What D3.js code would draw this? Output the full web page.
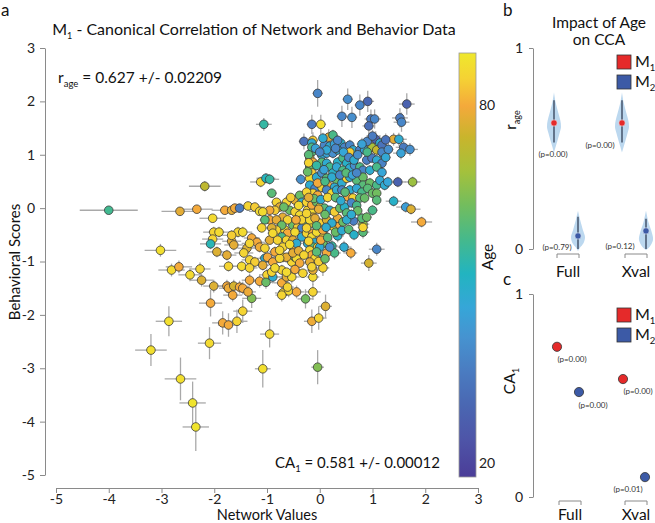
<!DOCTYPE html>
<html><head><meta charset="utf-8">
<script src="https://cdn.jsdelivr.net/npm/d3@7"></script>
<style>body{margin:0;background:#fff}svg{font-family:Lato,"Open Sans",sans-serif}</style>
</head><body><svg id="chart" width="655" height="523"></svg>
<script>
// ---------- DATA ----------
// [network value, behavioral score, age, network error, behavior error]
const subjects = [
[-4.00,-0.04,57,0.55,0.06],[-3.02,-0.79,87,0.30,0.12],[-2.81,-1.16,86,0.25,0.12],[-2.67,-1.10,80,0.25,0.12],
[-2.46,-1.25,86,0.22,0.12],[-2.27,-1.14,85,0.20,0.12],[-2.24,-1.35,77,0.22,0.12],[-2.86,-2.12,87,0.25,0.28],
[-3.20,-2.66,87,0.30,0.30],[-2.64,-3.20,87,0.30,0.40],[-2.41,-3.65,88,0.25,0.40],[-2.35,-4.10,88,0.25,0.45],
[-2.09,-2.53,86,0.22,0.30],[-2.07,-1.78,80,0.22,0.25],[-1.84,-2.15,80,0.20,0.22],[-1.73,-2.19,80,0.20,0.22],
[-1.57,-2.12,85,0.20,0.22],[-1.46,-1.93,85,0.18,0.22],[-1.29,-1.69,65,0.18,0.18],[-0.95,-2.36,86,0.18,0.25],
[-1.08,-3.01,87,0.15,0.35],[-0.04,-2.98,65,0.12,0.32],[-0.15,-2.12,79,0.15,0.22],[-0.02,-2.06,85,0.15,0.22],
[0.11,-1.84,77,0.12,0.22],[-0.27,-1.70,63,0.15,0.18],[-0.13,-1.57,85,0.15,0.15],[-2.18,0.41,73,0.30,0.10],
[-2.65,-0.06,78,0.35,0.08],[-2.33,-0.02,80,0.30,0.08],[-2.03,-0.19,86,0.25,0.08],[-1.80,-0.04,80,0.25,0.08],
[-1.67,-0.04,78,0.22,0.08],[-1.61,0.00,80,0.22,0.08],[-1.52,0.00,35,0.22,0.08],[-1.36,0.04,85,0.20,0.08],
[-1.23,0.02,84,0.20,0.08],[-1.14,-0.06,86,0.20,0.08],[-1.12,0.49,85,0.20,0.10],[-1.02,0.56,52,0.18,0.10],
[-0.95,0.54,55,0.18,0.10],[-1.06,1.57,55,0.15,0.12],[-0.04,2.15,38,0.10,0.25],[0.53,2.04,40,0.10,0.20],
[0.76,1.93,38,0.10,0.20],[0.91,2.00,30,0.12,0.20],[1.65,1.95,28,0.15,0.20],[0.42,1.72,38,0.10,0.20],
[0.61,1.70,40,0.10,0.20],[0.97,1.67,35,0.12,0.18],[1.04,1.67,38,0.12,0.18],[1.52,1.69,35,0.15,0.18],
[1.55,1.61,38,0.15,0.18],[0.93,1.54,32,0.12,0.18],[-0.15,1.57,35,0.10,0.18],[0.02,1.57,87,0.10,0.18],
[-0.30,1.25,33,0.10,0.15],[-0.13,1.27,84,0.10,0.15],[0.17,1.33,78,0.10,0.15],[1.06,1.29,28,0.15,0.15],
[1.14,1.22,48,0.15,0.15],[1.40,1.29,78,0.15,0.12],[1.50,1.29,48,0.15,0.12],[1.59,1.14,35,0.15,0.12],
[1.71,1.10,40,0.15,0.12],[1.54,1.03,45,0.15,0.12],[1.21,1.01,47,0.12,0.12],[1.48,0.49,28,0.15,0.10],
[1.76,0.49,68,0.15,0.10],[1.40,0.13,50,0.15,0.10],[-0.36,0.54,40,0.10,0.10],[1.63,0.02,44,0.18,0.10],
[1.73,-0.02,77,0.18,0.10],[1.93,-0.26,80,0.20,0.10],[1.08,-0.77,38,0.15,0.12],[0.93,-1.03,76,0.15,0.15],
[0.34,-0.52,50,0.12,0.12],[0.46,-0.73,48,0.12,0.12],[0.59,-0.84,80,0.12,0.12],[0.82,-0.45,60,0.12,0.12],
[0.82,-0.30,66,0.12,0.12],[0.80,-0.19,60,0.12,0.10],[0.64,-0.24,36,0.12,0.10],[0.23,-0.71,55,0.12,0.12],
[0.28,-0.84,58,0.12,0.12],[0.13,-0.84,80,0.12,0.12],[0.06,-1.12,85,0.12,0.15],[-0.13,-1.29,86,0.12,0.15],
[-2.01,-0.45,85,0.20,0.10],[-1.91,-0.45,86,0.20,0.10],[-1.55,-0.45,85,0.18,0.10],[-1.46,-0.45,86,0.18,0.10],
[-1.67,-0.62,78,0.18,0.10],[-1.67,-0.51,84,0.18,0.10],[-2.03,-0.58,85,0.20,0.10],[-2.07,-0.67,53,0.20,0.10],
[-1.95,-0.82,77,0.20,0.10],[-1.76,-0.88,78,0.18,0.10],[-1.63,-0.69,78,0.18,0.10],[-1.38,-0.75,77,0.18,0.10],
[-1.44,-0.84,85,0.18,0.10],[-1.29,-0.56,80,0.15,0.10],[-1.19,-0.64,80,0.15,0.10],[-1.14,-0.73,79,0.15,0.10],
[-1.33,-0.97,85,0.15,0.10],[-1.23,-1.01,84,0.15,0.10],[-1.73,-1.09,85,0.18,0.10],[-1.48,-1.09,86,0.18,0.10],
[-1.33,-1.12,85,0.15,0.10],[-1.04,-0.94,48,0.15,0.10],[-0.99,-0.92,80,0.15,0.10],[-2.01,-1.46,77,0.20,0.12],
[-1.76,-1.46,80,0.18,0.12],[-1.73,-1.50,79,0.18,0.12],[-1.63,-1.46,76,0.18,0.12],[-1.52,-1.48,80,0.18,0.12],
[-1.65,-1.63,80,0.18,0.12],[-1.33,-1.35,80,0.15,0.12],[-1.14,-1.37,80,0.15,0.12],[-1.00,-1.25,85,0.15,0.12],
[-1.02,-1.39,62,0.15,0.12],[-0.89,-1.29,48,0.15,0.12],[-0.91,-1.20,85,0.15,0.12],[-0.72,-1.40,80,0.15,0.12],
[-0.70,-1.59,85,0.15,0.12],[-0.59,-1.55,86,0.15,0.12],[-0.44,-1.57,80,0.15,0.12],[-0.63,-1.29,78,0.15,0.12],
[-0.53,-1.29,86,0.15,0.12],[-0.13,-1.16,78,0.12,0.12],[-1.33,-0.66,85,0.15,0.10],[-0.89,-1.01,80,0.12,0.10],
[-1.08,-1.07,78,0.12,0.10],[-0.85,-0.82,80,0.12,0.10],[-0.70,-0.92,86,0.12,0.10],[-0.53,-1.01,85,0.12,0.10],
[-0.47,-0.92,62,0.12,0.10],[-0.13,-0.97,85,0.12,0.10],[-0.04,-0.92,48,0.12,0.10],[-0.72,-1.16,85,0.12,0.10],
[-0.61,-1.48,85,0.12,0.12],[-1.46,-1.50,80,0.15,0.12],[-1.36,-1.57,79,0.15,0.12],[-0.72,-1.63,85,0.12,0.12],
[-0.63,0.11,85,0.10,0.08],[-0.47,0.15,78,0.10,0.08],[-0.23,-0.04,85,0.10,0.08],[-0.15,-0.09,86,0.10,0.08],
[-0.13,-0.17,78,0.10,0.08],[-0.15,-0.28,85,0.10,0.08],[-0.51,-0.32,62,0.10,0.08],[-0.42,-0.36,84,0.10,0.08],
[-0.28,-0.28,60,0.10,0.08],[-0.34,-0.37,38,0.10,0.08],[-0.66,-0.41,85,0.10,0.08],[-0.61,-0.47,80,0.10,0.08],
[-0.47,-0.45,86,0.10,0.08],[-0.72,-0.54,58,0.10,0.08],[-0.63,-0.60,85,0.10,0.08],[-0.51,-0.60,78,0.10,0.08],
[-0.34,-0.54,48,0.10,0.08],[-0.25,-0.47,85,0.10,0.08],[-0.13,-0.47,80,0.10,0.08],[-0.15,-0.54,86,0.10,0.08],
[0.00,-0.28,84,0.10,0.08],[0.13,-0.22,77,0.10,0.08],[0.25,-0.34,85,0.10,0.08],[0.38,-0.32,80,0.10,0.08],
[0.34,-0.19,79,0.10,0.08],[0.06,-0.47,85,0.10,0.08],[-0.09,-0.64,48,0.10,0.08],[-0.70,-0.73,85,0.10,0.08],
[-0.51,-0.73,80,0.10,0.08],[-0.63,-0.92,78,0.10,0.08],[-0.76,-0.94,85,0.10,0.08],[-0.44,-0.94,86,0.10,0.08],
[-0.38,-1.03,80,0.10,0.08],[-0.23,-0.66,48,0.10,0.08],[-0.13,-0.73,60,0.10,0.08],[-0.04,-0.73,85,0.10,0.08],
[0.06,-0.66,62,0.10,0.08],[-0.19,-0.79,85,0.10,0.08],[-0.15,-0.88,80,0.10,0.08],[-0.09,-0.94,86,0.10,0.08],
[-0.19,-1.01,78,0.10,0.08],[-0.15,-1.10,85,0.10,0.08],[0.00,-0.73,48,0.10,0.08],[-0.63,-1.20,86,0.10,0.08],
[0.09,1.18,38,0.08,0.10],[0.19,1.16,48,0.08,0.10],[0.28,1.20,45,0.08,0.10],[0.40,1.22,50,0.08,0.10],
[0.47,1.14,38,0.08,0.10],[-0.15,1.05,60,0.08,0.10],[-0.19,0.94,85,0.08,0.10],[-0.13,0.86,80,0.08,0.10],
[0.04,0.99,47,0.08,0.10],[0.13,1.03,45,0.08,0.10],[0.25,1.03,40,0.08,0.10],[0.34,0.86,50,0.08,0.10],
[0.44,0.94,58,0.08,0.10],[0.51,0.84,50,0.08,0.10],[0.04,0.86,60,0.08,0.10],[0.13,0.84,48,0.08,0.10],
[0.19,0.77,57,0.08,0.10],[-0.19,0.77,62,0.08,0.10],[-0.15,0.66,84,0.08,0.10],[-0.19,0.56,86,0.08,0.10],
[-0.06,0.58,48,0.08,0.10],[0.04,0.66,40,0.08,0.10],[0.13,0.56,60,0.08,0.10],[0.25,0.66,50,0.08,0.10],
[0.32,0.52,62,0.08,0.10],[0.42,0.47,48,0.08,0.10],[0.51,0.56,85,0.08,0.10],[-0.19,0.43,48,0.08,0.10],
[-0.09,0.37,38,0.08,0.10],[0.04,0.39,85,0.08,0.10],[0.15,0.43,80,0.08,0.10],[0.28,0.39,48,0.08,0.10],
[-0.91,0.28,60,0.10,0.08],[-0.82,0.11,85,0.10,0.08],[-0.76,0.02,78,0.10,0.08],[-0.85,-0.04,84,0.10,0.08],
[-0.95,-0.04,80,0.10,0.08],[-1.08,-0.07,86,0.10,0.08],[-0.38,0.24,62,0.10,0.08],[-0.34,0.11,48,0.10,0.08],
[-0.25,0.11,85,0.10,0.08],[-0.15,0.06,80,0.10,0.08],[-0.06,0.11,62,0.10,0.08],[0.00,0.02,85,0.10,0.08],
[0.09,0.00,60,0.10,0.08],[0.19,-0.04,48,0.10,0.08],[0.28,-0.07,84,0.10,0.08],[0.38,0.00,62,0.10,0.08],
[0.47,0.02,50,0.10,0.08],[0.51,-0.09,60,0.10,0.08],[-0.57,-0.04,62,0.10,0.08],[-0.47,-0.07,85,0.10,0.08],
[-0.38,-0.13,86,0.10,0.08],[-0.70,-0.17,78,0.10,0.08],[-0.61,-0.22,85,0.10,0.08],[-0.34,-0.22,85,0.10,0.08],
[-0.95,-0.22,80,0.10,0.08],[-0.82,-0.22,78,0.10,0.08],[-0.72,-0.32,62,0.10,0.08],[-0.82,-0.41,85,0.10,0.08],
[-0.91,-0.37,77,0.10,0.08],[-1.04,-0.22,60,0.10,0.08],[-1.10,-0.37,85,0.10,0.08],[-0.19,-0.22,86,0.10,0.08],
[-0.09,-0.19,78,0.10,0.08],[0.23,-0.28,48,0.10,0.08],[0.44,-0.26,62,0.10,0.08],[0.51,-0.22,48,0.10,0.08],
[-0.25,-0.37,85,0.10,0.08],[-0.06,-0.45,86,0.10,0.08],[0.06,-0.41,80,0.10,0.08],[-1.04,-0.75,85,0.10,0.08],
[-0.95,-0.60,78,0.10,0.08],[-0.89,-0.47,86,0.10,0.08],[-0.44,-0.66,48,0.10,0.08],[-0.76,-0.79,85,0.10,0.08],
[-0.51,-0.84,78,0.10,0.08],[-0.06,-0.82,60,0.10,0.08],[0.19,-0.73,40,0.10,0.08],
[0.06,1.31,48,0.08,0.10],[0.25,1.37,58,0.08,0.10],[0.34,1.27,38,0.08,0.10],[-0.15,1.22,48,0.08,0.10],
[-0.15,1.14,58,0.08,0.10],[0.13,1.09,47,0.08,0.10],[0.34,1.09,48,0.08,0.10],[0.57,1.18,38,0.08,0.10],
[0.63,1.09,48,0.08,0.10],[0.76,1.09,36,0.08,0.10],[0.85,1.09,46,0.08,0.10],[0.99,1.14,70,0.08,0.10],
[1.08,1.09,74,0.08,0.10],[1.18,1.18,33,0.08,0.10],[1.18,1.05,38,0.08,0.10],[0.57,1.05,84,0.08,0.10],
[0.32,0.77,47,0.08,0.10],[0.44,0.71,58,0.08,0.10],[0.57,0.75,48,0.08,0.10],[0.66,0.80,40,0.08,0.10],
[0.76,0.77,58,0.08,0.10],[0.89,0.90,36,0.08,0.10],[0.99,0.94,35,0.08,0.10],[1.08,0.90,48,0.08,0.10],
[1.18,0.84,37,0.08,0.10],[0.82,0.71,38,0.08,0.10],[0.95,0.71,48,0.08,0.10],[1.08,0.77,58,0.08,0.10],
[1.18,0.67,46,0.08,0.10],[0.23,0.58,48,0.08,0.10],[0.57,0.58,48,0.08,0.10],[0.70,0.52,60,0.08,0.10],
[0.82,0.58,62,0.08,0.10],[0.82,0.43,60,0.08,0.10],[0.95,0.47,62,0.08,0.10],[1.08,0.43,58,0.08,0.10],
[1.14,0.52,47,0.08,0.10],[1.23,0.43,48,0.08,0.10],[1.29,0.49,46,0.08,0.10],[-0.13,0.28,85,0.08,0.10],
[-0.04,0.24,80,0.08,0.10],[0.13,0.34,38,0.08,0.10],[0.23,0.28,86,0.08,0.10],[0.32,0.34,48,0.08,0.10],
[0.42,0.34,38,0.08,0.10],[0.57,0.34,48,0.08,0.10],[0.70,0.37,47,0.08,0.10],[0.80,0.30,58,0.08,0.10],
[0.91,0.37,60,0.08,0.10],[1.00,0.28,62,0.08,0.10],[0.53,0.21,80,0.08,0.10],[0.63,0.19,85,0.08,0.10],
[0.76,0.19,60,0.08,0.10],[0.85,0.19,62,0.08,0.10],[1.08,0.28,63,0.08,0.10],[1.08,0.15,60,0.08,0.10],
[0.89,-0.17,62,0.10,0.10],[1.00,-0.04,58,0.10,0.10],[0.82,-0.36,85,0.10,0.10],
[-0.21,1.00,60,0.08,0.10],[-0.08,1.12,45,0.08,0.10],[0.00,1.05,38,0.08,0.10],[-0.21,0.85,85,0.08,0.10],
[-0.06,0.80,55,0.08,0.10],[0.08,0.72,45,0.08,0.10],[-0.23,0.68,62,0.08,0.10],[-0.04,0.47,80,0.08,0.10],
[0.10,0.50,58,0.08,0.10],[-0.25,0.30,85,0.08,0.10],[-0.11,0.18,62,0.08,0.10],[0.02,0.16,48,0.08,0.10],
[0.15,0.20,85,0.08,0.10],[-0.21,0.20,78,0.08,0.10],[-0.02,-0.02,78,0.08,0.10],[0.10,-0.12,62,0.08,0.10],
[-0.06,-0.33,60,0.08,0.10],[0.12,-0.36,48,0.08,0.10],[-0.21,-0.62,85,0.08,0.10],[0.02,-0.60,80,0.08,0.10],
[0.15,-0.55,60,0.08,0.10],[-0.02,-1.00,84,0.08,0.10],[0.10,-0.95,62,0.08,0.10],
[0.30,1.12,38,0.08,0.10],[0.45,1.05,46,0.08,0.10],[0.55,0.95,38,0.08,0.10],[0.65,0.90,48,0.08,0.10],
[0.72,1.00,40,0.08,0.10],[0.38,0.62,38,0.08,0.10],[0.50,0.66,60,0.08,0.10],[0.62,0.62,45,0.08,0.10],
[0.70,0.66,38,0.08,0.10],[0.30,0.20,60,0.08,0.10],[0.40,0.14,48,0.08,0.10],[0.48,0.30,60,0.08,0.10],
[0.60,0.10,38,0.08,0.10],[0.70,0.05,58,0.08,0.10],[0.30,-0.45,62,0.08,0.10],[0.42,-0.42,48,0.08,0.10],
[0.55,-0.40,60,0.08,0.10],[0.65,-0.50,50,0.08,0.10],[0.72,-0.05,62,0.08,0.10],[0.60,-0.12,48,0.08,0.10],
[-0.55,0.20,84,0.10,0.08],[-0.68,0.02,62,0.10,0.08],[-0.45,-0.22,80,0.10,0.08],[-0.80,-0.60,85,0.10,0.08],
[-0.57,-0.68,86,0.10,0.08],[-0.40,-0.80,78,0.10,0.08],[-0.30,-0.88,85,0.10,0.08],[-0.85,-1.12,86,0.10,0.08],
[-0.47,-1.15,80,0.10,0.08],[-0.32,-1.22,85,0.10,0.08],[-0.25,-0.10,85,0.10,0.08],[-0.40,0.05,86,0.10,0.08],
[0.90,1.25,38,0.10,0.12],[1.00,1.35,35,0.10,0.12],[1.25,1.28,33,0.10,0.12],[0.80,1.20,45,0.10,0.12],
[1.30,1.10,40,0.10,0.12],[1.25,0.95,47,0.10,0.12],[0.90,1.05,58,0.10,0.12]
];
const xTicks = [-5,-4,-3,-2,-1,0,1,2,3];
const yTicks = [3,2,1,0,-1,-2,-3,-4,-5];
const ageTicks = [20,80];
const ageRange = [17.6,88.8];
const groups = ["Full","Xval"];
const models = ["M1","M2"];
const rAgeM1 = [0.627,0.627];       // Full, Xval
const rAgeM2 = [0.065,0.09];
const rAgeP_M1 = ["(p=0.00)","(p=0.00)"];
const rAgeP_M2 = ["(p=0.79)","(p=0.12)"];
const rAgeWhiskM1 = [[0.53,0.74],[0.53,0.74]];
const rAgeWhiskM2 = [[0.0,0.16],[0.0,0.15]];
// violin profiles [r, relative half width]
const violinFullM1 = [[0.48,0],[0.51,0.25],[0.54,0.5],[0.577,0.8],[0.607,1.0],[0.64,0.9],[0.677,0.62],[0.726,0.25],[0.78,0]];
const violinXvalM1 = [[0.48,0],[0.51,0.25],[0.54,0.5],[0.577,0.8],[0.607,1.0],[0.64,0.9],[0.677,0.62],[0.726,0.25],[0.78,0]];
const violinFullM2 = [[-0.01,0],[0.005,0.25],[0.03,0.8],[0.06,1.0],[0.095,0.7],[0.145,0.3],[0.19,0]];
const violinXvalM2 = [[-0.005,0],[0.01,0.5],[0.045,1.0],[0.08,0.85],[0.13,0.38],[0.19,0]];
const caM1 = [0.74,0.581];
const caM2 = [0.517,0.098];
const caP_M1 = ["(p=0.00)","(p=0.00)"];
const caP_M2 = ["(p=0.00)","(p=0.01)"];
// parula-like colormap (position, colour)
const cmapPos = [0,0.09,0.17,0.25,0.33,0.40,0.48,0.56,0.64,0.72,0.80,0.875,0.94,1];
const cmapCol = ["#4b3d98","#4e55a8","#4a67b2","#4a7cc1","#4693d0","#36a6d8","#22b4c0","#45b98c","#72bd5e","#a4c13c","#c8b52c","#f4a93b","#f5d234","#efe82c"];

// ---------- DRAW ----------
const svg = d3.select("#chart");
const axisCol = "#8a8a8a";
function subText(g, parts, subSize, shift){
  parts.forEach(([t,sub])=>{
    const ts = g.append("tspan").text(t);
    if(sub){ ts.attr("font-size",subSize).attr("dy",shift); }
    else if(g.selectAll("tspan").size()>1){ ts.attr("dy",-shift); }
  });
}

const x = d3.scaleLinear().domain([-5,3]).range([56,478]);
const y = d3.scaleLinear().domain([-5,3]).range([475,48]);
const colorAge = d3.scaleLinear()
  .domain(cmapPos.map(p=>ageRange[0]+p*(ageRange[1]-ageRange[0])))
  .range(cmapCol).interpolate(d3.interpolateRgb).clamp(true);

// axes
const xAx = svg.append("g").attr("transform","translate(0,488)")
  .call(d3.axisBottom(x).tickValues(xTicks).tickSize(5).tickSizeOuter(0).tickPadding(1).tickFormat(d=>String(d)));
const yAx = svg.append("g").attr("transform","translate(45,0)")
  .call(d3.axisLeft(y).tickValues(yTicks).tickSize(5).tickSizeOuter(0).tickPadding(5).tickFormat(d=>String(d)));
[xAx,yAx].forEach(a=>{
  a.selectAll("path,line").attr("stroke",axisCol);
  a.selectAll("text").attr("font-size",14).attr("fill","#222").attr("font-family","Lato");
});

// error bars
const eb = svg.append("g").attr("stroke","#a9a9a9").attr("stroke-width",1.3);
eb.selectAll(".h").data(subjects).join("line").attr("class","h")
  .attr("x1",d=>x(d[0]-d[3])).attr("x2",d=>x(d[0]+d[3])).attr("y1",d=>y(d[1])).attr("y2",d=>y(d[1]));
eb.selectAll(".v").data(subjects).join("line").attr("class","v")
  .attr("x1",d=>x(d[0])).attr("x2",d=>x(d[0])).attr("y1",d=>y(d[1]-d[4])).attr("y2",d=>y(d[1]+d[4]));
// points
svg.append("g").selectAll("circle").data(subjects).join("circle")
  .attr("cx",d=>x(d[0])).attr("cy",d=>y(d[1])).attr("r",4.3)
  .attr("fill",d=>colorAge(d[2])).attr("stroke","#3a3a3a").attr("stroke-width",0.8);

// title & annotations
const t = svg.append("text").attr("x",254).attr("y",35).attr("text-anchor","middle").attr("font-size",16).attr("fill","#111");
subText(t,[["M",0],["1",1],[" - Canonical Correlation of Network and Behavior Data",0]],9,4);
svg.append("text").attr("x",1).attr("y",16).attr("font-size",17).attr("fill","#111").text("a");
const ra = svg.append("text").attr("x",58).attr("y",83).attr("font-size",15.5).attr("fill","#111");
subText(ra,[["r",0],["age",1],[" = 0.627 +/- 0.02209",0]],9.5,4);
const ca = svg.append("text").attr("x",275).attr("y",468).attr("font-size",15).attr("fill","#111");
subText(ca,[["CA",0],["1",1],[" = 0.581 +/- 0.00012",0]],9.5,4);
svg.append("text").attr("x",267).attr("y",520).attr("text-anchor","middle").attr("font-size",14.5).attr("fill","#111").text("Network Values");
svg.append("text").attr("transform","translate(20,262) rotate(-90)").attr("text-anchor","middle").attr("font-size",15).attr("fill","#111").text("Behavioral Scores");

// colorbar
const cbY = d3.scaleLinear().domain(ageRange).range([477,53]);
const grad = svg.append("defs").append("linearGradient").attr("id","cb").attr("x1",0).attr("y1",1).attr("x2",0).attr("y2",0);
cmapPos.forEach((p,i)=>grad.append("stop").attr("offset",p).attr("stop-color",cmapCol[i]));
svg.append("rect").attr("x",459).attr("y",53).attr("width",17).attr("height",424).attr("fill","url(#cb)").attr("stroke","#9a9a9a").attr("stroke-width",0.8);
svg.append("g").selectAll("text").data(ageTicks).join("text").attr("x",479).attr("y",d=>cbY(d)+5)
  .attr("font-size",14).attr("fill","#222").text(d=>d);
svg.append("text").attr("transform","translate(493,257) rotate(-90)").attr("text-anchor","middle").attr("font-size",15.5).attr("fill","#111").text("Age");

// ---------- panel b ----------
const yB = d3.scaleLinear().domain([0,1]).range([249,48]);
const xB = d3.scalePoint().domain(groups).range([566,634]);
const offB = 12;
const red = "#e52a2a", blue = "#3c5aa6";
const bAx = svg.append("g").attr("transform","translate(533,0)")
  .call(d3.axisLeft(yB).tickValues([0,1]).tickSize(4).tickSizeOuter(0).tickPadding(6).tickFormat(d=>String(d)));
bAx.selectAll("path,line").attr("stroke",axisCol);
bAx.selectAll("text").attr("font-size",14).attr("fill","#222").attr("font-family","Lato");
svg.append("text").attr("x",503).attr("y",16).attr("font-size",17).attr("fill","#111").text("b");
svg.append("text").attr("x",599).attr("y",28).attr("text-anchor","middle").attr("font-size",15.5).attr("fill","#111").text("Impact of Age");
svg.append("text").attr("x",599).attr("y",45).attr("text-anchor","middle").attr("font-size",15.5).attr("fill","#111").text("on CCA");
const rl = svg.append("text").attr("transform","translate(516,120) rotate(-90)").attr("text-anchor","middle").attr("font-size",15).attr("fill","#111");
subText(rl,[["r",0],["age",1]],9,4);

const violins = [[violinFullM1,violinXvalM1],[violinFullM2,violinXvalM2]];
const whisk = [rAgeWhiskM1, rAgeWhiskM2];
const rVals = [rAgeM1, rAgeM2];
const area = (cx,w)=>d3.area().y(d=>yB(d[0])).x0(d=>cx-d[1]*w).x1(d=>cx+d[1]*w).curve(d3.curveCatmullRom);
models.forEach((m,mi)=>{
  groups.forEach((g,gi)=>{
    const cx = xB(g)+(mi===0?-offB:offB);
    svg.append("path").attr("d",area(cx,7)(violins[mi][gi])).attr("fill","#bcd8ef");
    svg.append("line").attr("x1",cx).attr("x2",cx).attr("y1",yB(whisk[mi][gi][0])).attr("y2",yB(whisk[mi][gi][1]))
      .attr("stroke","#263248").attr("stroke-width",1.2);
    svg.append("circle").attr("cx",cx).attr("cy",yB(rVals[mi][gi])).attr("r",3.2)
      .attr("fill",mi===0?red:blue).attr("stroke","#e8f0f8").attr("stroke-width",0.6);
  });
});
const pB = [[553,157,rAgeP_M1[0]],[600,148,rAgeP_M1[1]],[557,250,rAgeP_M2[0]],[620,249,rAgeP_M2[1]]];
svg.append("g").selectAll("text").data(pB).join("text").attr("x",d=>d[0]).attr("y",d=>d[1]).attr("text-anchor","middle")
  .attr("font-size",8).attr("fill","#333").text(d=>d[2]);

function brackets(xs, yy, yLab){
  groups.forEach(g=>{
    const c = xs(g)+2;
    svg.append("path").attr("d",`M${c-11},${yy+4}V${yy}H${c+11}V${yy+4}`).attr("fill","none").attr("stroke",axisCol).attr("stroke-width",1);
    svg.append("text").attr("x",c).attr("y",yLab).attr("text-anchor","middle").attr("font-size",15.5).attr("fill","#111").text(g);
  });
}
brackets(xB,254,277);

function legend(y0){
  [[red,"1"],[blue,"2"]].forEach(([c,s],i)=>{
    svg.append("rect").attr("x",617).attr("y",y0+i*20).attr("width",14).attr("height",14).attr("fill",c).attr("stroke","#333").attr("stroke-width",0.8);
    const tt = svg.append("text").attr("x",635).attr("y",y0+i*20+12).attr("font-size",16).attr("fill","#111");
    subText(tt,[["M",0],[s,1]],9.5,4);
  });
}
legend(55);

// ---------- panel c ----------
const yC = d3.scaleLinear().domain([0,1]).range([497,294]);
const xC = d3.scalePoint().domain(groups).range([568,634]);
const offC = 11;
const cAx = svg.append("g").attr("transform","translate(533,0)")
  .call(d3.axisLeft(yC).tickValues([0,1]).tickSize(4).tickSizeOuter(0).tickPadding(6).tickFormat(d=>String(d)));
cAx.selectAll("path,line").attr("stroke",axisCol);
cAx.selectAll("text").attr("font-size",14).attr("fill","#222").attr("font-family","Lato");
svg.append("text").attr("x",503).attr("y",285).attr("font-size",17).attr("fill","#111").text("c");
const cl = svg.append("text").attr("transform","translate(515,381) rotate(-90)").attr("text-anchor","middle").attr("font-size",15.5).attr("fill","#111");
subText(cl,[["CA",0],["1",1]],9.5,4);
const caVals = [caM1, caM2];
models.forEach((m,mi)=>{
  groups.forEach((g,gi)=>{
    svg.append("circle").attr("cx",xC(g)+(mi===0?-offC:offC)).attr("cy",yC(caVals[mi][gi])).attr("r",4.6)
      .attr("fill",mi===0?red:blue).attr("stroke","#333").attr("stroke-width",0.8);
  });
});
const pC = [[572,362,caP_M1[0]],[593,408,caP_M2[0]],[638,394,caP_M1[1]],[628,492,caP_M2[1]]];
svg.append("g").selectAll("text").data(pC).join("text").attr("x",d=>d[0]).attr("y",d=>d[1]).attr("text-anchor","middle")
  .attr("font-size",8).attr("fill","#333").text(d=>d[2]);
brackets(xC,501,520);
legend(308);
</script></body></html>
